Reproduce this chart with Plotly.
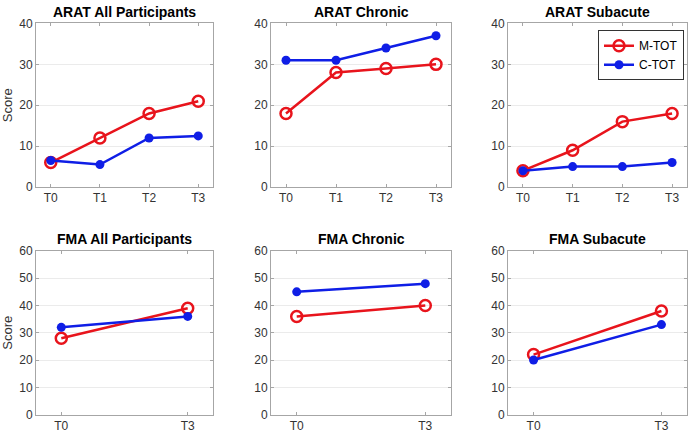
import plotly.graph_objects as go

arat_times = ["T0", "T1", "T2", "T3"]
fma_times = ["T0", "T3"]

arat_all_m = [6, 12, 18, 21]
arat_all_c = [6.5, 5.5, 12, 12.5]
arat_chr_m = [18, 28, 29, 30]
arat_chr_c = [31, 31, 34, 37]
arat_sub_m = [4, 9, 16, 18]
arat_sub_c = [4, 5, 5, 6]
fma_all_m = [28, 39]
fma_all_c = [32, 36]
fma_chr_m = [36, 40]
fma_chr_c = [45, 48]
fma_sub_m = [22, 38]
fma_sub_c = [20, 33]

titles = ["ARAT All Participants", "ARAT Chronic", "ARAT Subacute",
          "FMA All Participants", "FMA Chronic", "FMA Subacute"]

panels = [
    (arat_times, arat_all_m, arat_all_c),
    (arat_times, arat_chr_m, arat_chr_c),
    (arat_times, arat_sub_m, arat_sub_c),
    (fma_times, fma_all_m, fma_all_c),
    (fma_times, fma_chr_m, fma_chr_c),
    (fma_times, fma_sub_m, fma_sub_c),
]

W, H = 690, 439
xdoms = [(36, 213), (271, 451), (508, 687)]
ydoms = [(17, 186), (252, 421)]

RED = "#e8141c"
BLUE = "#0f1ee6"
FONT = "Liberation Sans"

fig = go.Figure()
layout = {}
annotations = []
for i, (cats, m, c) in enumerate(panels):
    row, col = divmod(i, 3)
    ax = "" if i == 0 else str(i + 1)
    xref, yref = "x" + ax, "y" + ax
    xpos = list(range(len(cats)))
    fig.add_trace(go.Scatter(
        x=xpos, y=m, mode="lines+markers", name="M-TOT",
        line=dict(color=RED, width=2.5),
        marker=dict(symbol="circle-open", size=11, color=RED, line=dict(width=2.5)),
        showlegend=(i == 2), xaxis=xref, yaxis=yref))
    fig.add_trace(go.Scatter(
        x=xpos, y=c, mode="lines+markers", name="C-TOT",
        line=dict(color=BLUE, width=2.5),
        marker=dict(symbol="circle", size=9, color=BLUE),
        showlegend=(i == 2), xaxis=xref, yaxis=yref))
    x0, x1 = xdoms[col]
    y0, y1 = ydoms[row]
    n = len(cats)
    if n == 4:
        xr = [-0.3, 3.3]
        ymax, dt = 40, 10
    else:
        xr = [-0.2, 1.2]
        ymax, dt = 60, 10
    layout["xaxis" + ax] = dict(
        domain=[x0 / W, x1 / W], anchor=yref, range=xr,
        tickmode="array", tickvals=xpos, ticktext=cats,
        showgrid=False, zeroline=False, showline=True, mirror="ticks",
        linecolor="#a6a6a6", linewidth=1, ticks="inside", ticklen=3,
        tickcolor="#a6a6a6", tickfont=dict(family=FONT, size=12, color="#333333"))
    layout["yaxis" + ax] = dict(
        domain=[1 - y1 / H, 1 - y0 / H], anchor=xref, range=[0, ymax],
        tickmode="linear", tick0=0, dtick=dt,
        showgrid=True, gridcolor="#ebebeb", gridwidth=1, zeroline=False,
        showline=True, mirror="ticks", linecolor="#a6a6a6", linewidth=1,
        ticks="inside", ticklen=3, tickcolor="#a6a6a6",
        tickfont=dict(family=FONT, size=12, color="#333333"),
        title=dict(text="Score" if col == 0 else "", font=dict(family=FONT, size=13, color="#333333"),
                   standoff=6))
    annotations.append(dict(
        text="<b>" + titles[i] + "</b>", xref="paper", yref="paper",
        x=(x0 + x1) / 2 / W, y=1 - (y0 - 2) / H, xanchor="center", yanchor="bottom",
        showarrow=False, font=dict(family=FONT, size=14, color="black")))

fig.update_layout(
    **layout,
    annotations=annotations,
    width=W, height=H,
    margin=dict(l=0, r=0, t=0, b=0),
    plot_bgcolor="white", paper_bgcolor="white",
    legend=dict(x=684 / W, y=1 - 24 / H, xanchor="right", yanchor="top",
                bgcolor="white", bordercolor="#333333", borderwidth=1,
                font=dict(family=FONT, size=12, color="black"),
                itemwidth=30, tracegroupgap=0),
)

fig.write_html("out.html", config={"displayModeBar": False},
               post_script="document.body.style.margin='0';document.body.style.overflow='hidden';")
